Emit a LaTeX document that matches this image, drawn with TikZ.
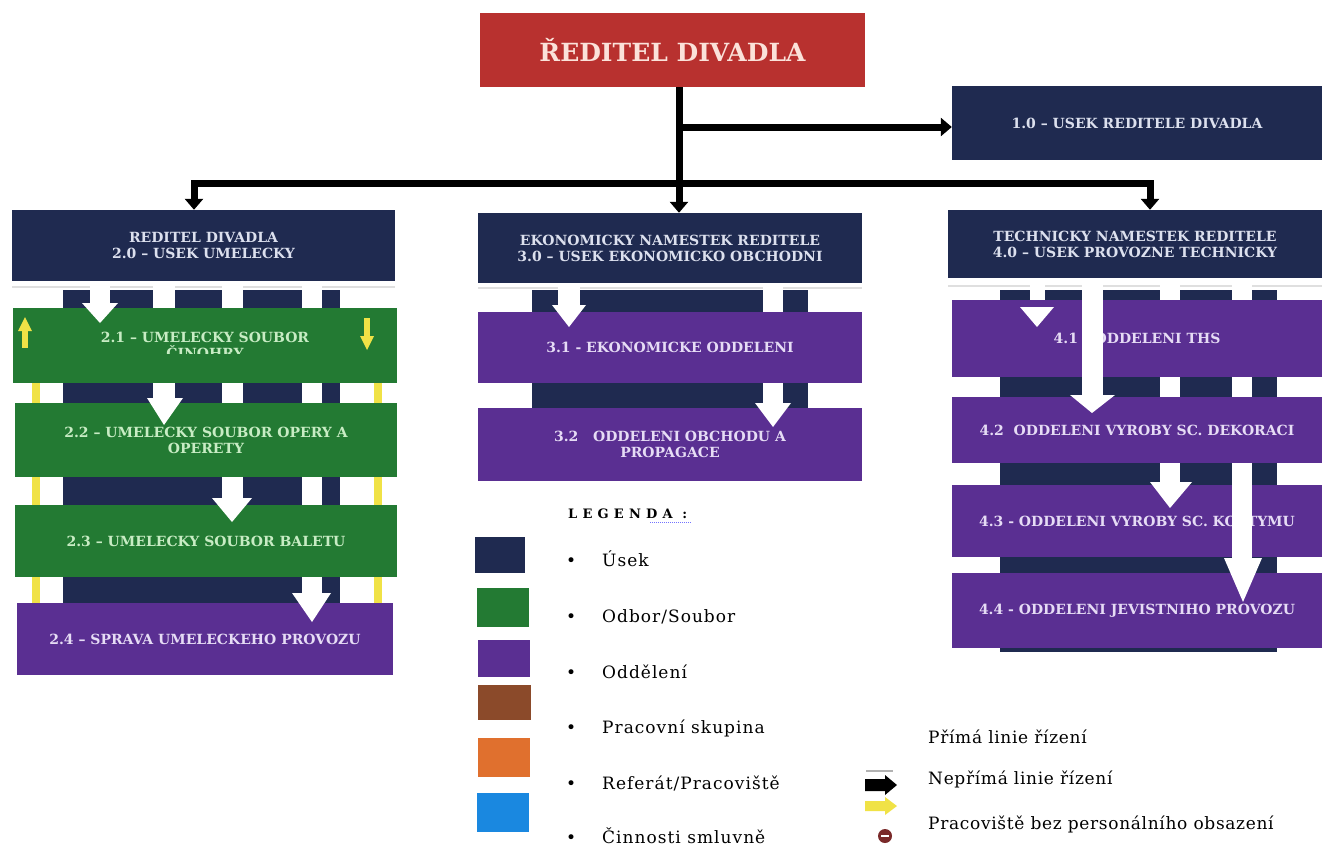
\documentclass[tikz,border=0pt]{standalone}
\usepackage{fontspec}
\setmainfont{DejaVu Serif}
\newfontfamily\legfont[LetterSpace=6]{DejaVu Serif}
\newfontfamily\legfontr[LetterSpace=4]{DejaVu Serif}
\newfontfamily\headfont[LetterSpace=40]{DejaVu Serif}
\usetikzlibrary{arrows.meta}
\definecolor{navy}{HTML}{1F2A50}
\definecolor{navytext}{HTML}{DCE0EE}
\definecolor{grn}{HTML}{237A33}
\definecolor{grntext}{HTML}{C8ECC4}
\definecolor{purp}{HTML}{5A2F92}
\definecolor{purptext}{HTML}{E6DCF5}
\definecolor{redbox}{HTML}{B8312F}
\definecolor{redtext}{HTML}{FBE2DA}
\definecolor{brownsw}{HTML}{8B4A2A}
\definecolor{orangesw}{HTML}{E0702E}
\definecolor{bluesw}{HTML}{1A88E0}
\definecolor{yel}{HTML}{F0E246}
\definecolor{dkred}{HTML}{7A2A2A}
\tikzset{
  orgbox/.style={rectangle, inner sep=0pt, align=center, font={\fontsize{14}{16}\selectfont\bfseries}},
  navybox/.style={orgbox, fill=navy, text=navytext},
  greenbox/.style={orgbox, fill=grn, text=grntext},
  purplebox/.style={orgbox, fill=purp, text=purptext},
  conn/.style={draw=black, line width=7pt},
  endarrow/.style={-{Triangle[length=11pt,width=18pt]}},
  bandfill/.style={fill=navy},
  wshaft/.style={fill=white},
  swatch/.style={rectangle, inner sep=0pt},
  legtext/.style={anchor=base west, inner sep=0pt, font={\legfont\fontsize{17}{19}\selectfont}},
  legtextr/.style={anchor=base west, inner sep=0pt, font={\legfontr\fontsize{17}{19}\selectfont}},
  gapline/.style={draw=gray!25, line width=2pt},
}
\begin{document}
\begin{tikzpicture}[x=1pt,y=-1pt]
\useasboundingbox (0,0) rectangle (1322,846);
\fill[white] (0,0) rectangle (1322,846);

% navy bands behind the columns
\fill[bandfill] (63,290) rectangle (340,603);
\fill[bandfill] (532,290) rectangle (808,408);
\fill[bandfill] (1000,290) rectangle (1277,652);
\draw[gapline] (12,287) -- (395,287);
\draw[gapline] (478,288) -- (862,288);
\draw[gapline] (948,286) -- (1322,286);

% yellow side lines
\fill[yel] (32,383) rectangle (40,603);
\fill[yel] (374,383) rectangle (382,603);

% white arrow shafts behind the boxes
\fill[wshaft] (90,281) rectangle (110,305);
\fill[wshaft] (153,281) rectangle (175,400);
\fill[wshaft] (222,281) rectangle (243,500);
\fill[wshaft] (302,281) rectangle (322,595);
\fill[wshaft] (558,283) rectangle (580,307);
\fill[wshaft] (763,283) rectangle (783,405);
\fill[wshaft] (1030,278) rectangle (1045,309);
\fill[wshaft] (1082,278) rectangle (1103,397);
\fill[wshaft] (1160,278) rectangle (1180,484);
\fill[wshaft] (1232,278) rectangle (1252,560);

% boxes
\node[orgbox, fill=redbox, text=redtext, minimum width=385pt, minimum height=74pt,
      font={\fontsize{25}{28}\selectfont\bfseries}] (top) at (672.5,50) {ŘEDITEL DIVADLA};
\node[navybox, minimum width=370pt, minimum height=74pt] (u10) at (1137,123) {1.0 – USEK REDITELE DIVADLA};
\node[navybox, minimum width=383pt, minimum height=71pt] (u20) at (203.5,245.5) {REDITEL DIVADLA\\2.0 – USEK UMELECKY};
\node[navybox, minimum width=384pt, minimum height=70pt] (u30) at (670,248) {EKONOMICKY NAMESTEK REDITELE\\3.0 – USEK EKONOMICKO OBCHODNI};
\node[navybox, minimum width=374pt, minimum height=68pt] (u40) at (1135,244) {TECHNICKY NAMESTEK REDITELE\\4.0 – USEK PROVOZNE TECHNICKY};

\node[greenbox, minimum width=384pt, minimum height=75pt] (b21) at (205,345.5) {2.1 – UMELECKY SOUBOR\\ČINOHRY};
\fill[grn] (13,354) rectangle (397,383);
\node[greenbox, minimum width=382pt, minimum height=74pt] (b22) at (206,440) {2.2 – UMELECKY SOUBOR OPERY A\\OPERETY};
\node[greenbox, minimum width=382pt, minimum height=72pt] (b23) at (206,541) {2.3 – UMELECKY SOUBOR BALETU};
\node[purplebox, minimum width=376pt, minimum height=72pt] (b24) at (205,639) {2.4 – SPRAVA UMELECKEHO PROVOZU};

\node[purplebox, minimum width=384pt, minimum height=71pt] (b31) at (670,347.5) {3.1 - EKONOMICKE ODDELENI};
\node[purplebox, minimum width=384pt, minimum height=73pt] (b32) at (670,444.5) {3.2 \ \ ODDELENI OBCHODU A\\PROPAGACE};

\node[purplebox, minimum width=370pt, minimum height=77pt] (b41) at (1137,338.5) {4.1 – ODDELENI THS};
\node[purplebox, minimum width=370pt, minimum height=66pt] (b42) at (1137,430) {4.2 \ ODDELENI VYROBY SC. DEKORACI};
\node[purplebox, minimum width=370pt, minimum height=72pt] (b43) at (1137,521) {4.3 - ODDELENI VYROBY SC. KOSTYMU};
\node[purplebox, minimum width=370pt, minimum height=75pt] (b44) at (1137,610.5) {4.4 - ODDELENI JEVISTNIHO PROVOZU};

% white shafts drawn over boxes
\fill[wshaft] (1082,300) rectangle (1103,397);
\fill[wshaft] (1232,485) rectangle (1252,560);

% white arrow heads
\fill[wshaft] (82,303) -- (118,303) -- (100,323) -- cycle;
\fill[wshaft] (147,398) -- (183,398) -- (164,425) -- cycle;
\fill[wshaft] (212,498) -- (252,498) -- (232,522) -- cycle;
\fill[wshaft] (292,593) -- (331,593) -- (312,622) -- cycle;
\fill[wshaft] (552,305) -- (586,305) -- (569,327) -- cycle;
\fill[wshaft] (755,403) -- (791,403) -- (773,427) -- cycle;
\fill[wshaft] (1020,307) -- (1054,307) -- (1037,327) -- cycle;
\fill[wshaft] (1070,395) -- (1115,395) -- (1092,413) -- cycle;
\fill[wshaft] (1150,482) -- (1192,482) -- (1170,508) -- cycle;
\fill[wshaft] (1224,558) -- (1262,558) -- (1243,602) -- cycle;

% yellow arrows in 2.1
\fill[yel] (22,328) rectangle (28,348);
\fill[yel] (18,331) -- (32,331) -- (25,317) -- cycle;
\fill[yel] (364,318) rectangle (370,338);
\fill[yel] (360,336) -- (374,336) -- (367,350) -- cycle;

% black connectors
\coordinate (j) at (679,183);
\coordinate (jh) at (679,127);
\coordinate (bl) at (194,183);
\coordinate (br) at (1150,183);
\draw[conn, endarrow] (top.south -| j) -- (u30.north -| j);
\draw[conn, endarrow] (jh) -- (u10.west |- jh);
\draw[conn, endarrow] (j) -- (bl) -- (u20.north -| bl);
\draw[conn, endarrow] (j) -- (br) -- (u40.north -| br);

% legend
\node[anchor=base west, inner sep=0pt, font={\headfont\fontsize{13}{15}\selectfont\bfseries}] (legh) at (568,518) {LEGENDA :};
\draw[blue!55, line width=1pt, densely dotted] (650,522) -- (692,522);

\node[swatch, fill=navy, minimum width=50pt, minimum height=36pt] (s1) at (500,555) {};
\node[swatch, fill=grn, minimum width=52pt, minimum height=39pt] (s2) at (503,607.5) {};
\node[swatch, fill=purp, minimum width=52pt, minimum height=37pt] (s3) at (504,658.5) {};
\node[swatch, fill=brownsw, minimum width=53pt, minimum height=35pt] (s4) at (504,702.5) {};
\node[swatch, fill=orangesw, minimum width=52pt, minimum height=39pt] (s5) at (504,757.5) {};
\node[swatch, fill=bluesw, minimum width=52pt, minimum height=39pt] (s6) at (503,812.5) {};

\foreach \yy/\txt [count=\i] in {566/{Úsek}, 622/{Odbor/Soubor}, 678/{Oddělení}, 733/{Pracovní skupina}, 789/{Referát/Pracoviště}, 843/{Činnosti smluvně}}{
  \node[legtext] (bul\i) at (566,\yy) {•};
  \node[legtext] (lt\i) at (602,\yy) {\txt};
}

\node[legtextr] (lr1) at (928,743) {Přímá linie řízení};
\node[legtextr] (lr2) at (928,784) {Nepřímá linie řízení};
\node[legtextr] (lr3) at (928,829) {Pracoviště bez personálního obsazení};

% legend icons
\draw[gray!60, line width=1.2pt] (866,771) -- (893,771);
\fill[black] (865,779) -- (885,779) -- (885,775) -- (897,785) -- (885,795) -- (885,791) -- (865,791) -- cycle;
\fill[yel] (865,801) -- (885,801) -- (885,797) -- (897,806) -- (885,815) -- (885,811) -- (865,811) -- cycle;
\node[circle, fill=dkred, minimum size=14pt, inner sep=0pt] (nomark) at (885,836) {};
\draw[white, line width=2pt] (881,836) -- (889,836);
\end{tikzpicture}
\end{document}
